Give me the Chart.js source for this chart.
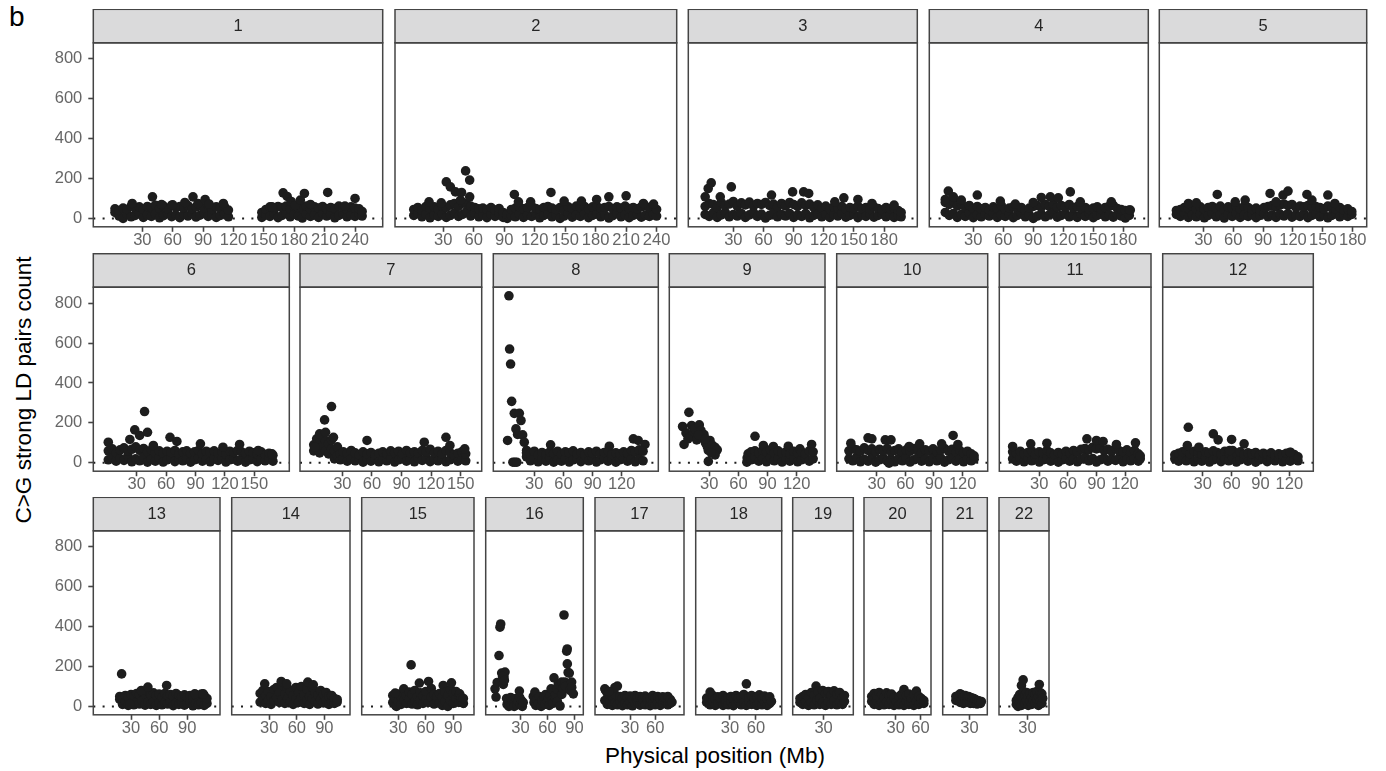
<!DOCTYPE html>
<html>
<head>
<meta charset="utf-8">
<script src="https://cdn.jsdelivr.net/npm/chart.js@4.4.1/dist/chart.umd.min.js"></script>
<style>
  html, body { margin: 0; padding: 0; background: #ffffff; }
  #page { position: relative; width: 1386px; height: 771px; overflow: hidden;
          font-family: "Liberation Sans", Arial, Helvetica, sans-serif; }
  .panel { position: absolute; }
  #tag { position: absolute; left: 9px; top: 3px; font-size: 28px; line-height: 28px; color: #000; }
  #ytitle { position: absolute; left: -176px; top: 378px; width: 400px; height: 24px;
            line-height: 24px; font-size: 22.5px; text-align: center; color: #000;
            transform: rotate(-90deg); transform-origin: 50% 50%; }
  #xtitle { position: absolute; left: 415px; top: 744px; width: 600px; height: 24px;
            line-height: 24px; font-size: 22.5px; text-align: center; color: #000; }
</style>
</head>
<body>
<div id="page">
  <div id="tag">b</div>
  <div id="ytitle">C&gt;G strong LD pairs count</div>
  <div id="xtitle">Physical position (Mb)</div>
</div>
<script>
// Chromosome labels shown in the facet strips
const chromLabels = ['1','2','3','4','5','6','7','8','9','10','11','12','13','14','15','16','17','18','19','20','21','22'];

// Axis breaks
const yBreaks = [0, 200, 400, 600, 800];
const xBreaks = [
  [30,60,90,120,150,180,210,240], [30,60,90,120,150,180,210,240],
  [30,60,90,120,150,180], [30,60,90,120,150,180], [30,60,90,120,150,180],
  [30,60,90,120,150], [30,60,90,120,150],
  [30,60,90,120], [30,60,90,120], [30,60,90,120], [30,60,90,120], [30,60,90,120],
  [30,60,90], [30,60,90], [30,60,90], [30,60,90],
  [30,60], [30,60], [30], [30,60], [30], [30]
];

// [physical position (Mb), C>G strong LD pairs count] per chromosome
const chr1 = [[3,30],[3,48],[7,12],[7,40],[11,0],[11,52],[15,20],[15,45],[19,8],[19,62],[23,15],[23,50],[27,25],[27,58],[31,5],[31,44],[35,18],[35,60],[39,10],[39,55],[43,22],[43,66],[47,3],[47,50],[51,14],[51,62],[55,26],[55,48],[59,9],[59,66],[63,18],[63,55],[67,4],[67,60],[71,20],[71,52],[75,12],[75,64],[79,25],[79,46],[83,7],[83,58],[87,16],[87,62],[91,28],[91,50],[95,10],[95,66],[99,20],[99,45],[103,5],[103,58],[107,15],[107,52],[111,24],[111,60],[115,8],[115,42],
  [20,75],[40,108],[49,70],[60,68],[72,80],[80,108],[85,75],[92,95],[96,72],[110,75],
  [148,5],[148,30],[152,18],[152,45],[156,10],[156,58],[160,25],[160,52],[164,4],[164,60],[168,15],[168,55],[172,28],[172,62],[176,8],[176,48],[180,20],[180,60],[184,12],[184,55],[188,2],[188,50],[192,22],[192,62],[196,10],[196,45],[200,18],[200,58],[204,5],[204,52],[208,26],[208,60],[212,12],[212,48],[216,20],[216,55],[220,3],[220,50],[224,15],[224,62],[228,24],[228,55],[232,8],[232,45],[236,18],[236,58],[240,10],[240,52],[244,22],[244,48],[247,12],[247,35],
  [158,58],[169,128],[173,110],[177,85],[181,65],[186,92],[190,125],[213,130],[240,100],[230,62],[196,70]];
const chr2 = [[1,15],[1,45],[5,25],[5,55],[9,8],[9,40],[13,20],[13,60],[17,3],[17,50],[21,18],[21,58],[25,10],[25,45],[29,22],[29,62],[33,5],[33,55],[37,15],[37,68],[41,28],[41,75],[45,10],[45,60],[49,20],[49,80],[53,35],[53,70],[57,12],[57,62],[61,25],[61,55],[65,8],[65,48],[69,18],[69,52],[73,4],[73,45],[77,20],[77,55],[81,10],[81,42],[85,25],[85,50],[89,5],[89,30],[93,0],[93,20],[97,15],[97,45],[101,8],[101,52],[105,22],[105,58],[109,5],[109,48],[113,18],[113,55],[117,10],[117,62],[121,25],[121,50],[125,3],[125,45],[129,15],[129,55],[133,22],[133,60],[137,8],[137,52],[141,18],[141,45],[145,0],[145,55],[149,12],[149,40],[153,25],[153,58],[157,6],[157,50],[161,18],[161,62],[165,10],[165,55],[169,24],[169,60],[173,4],[173,48],[177,15],[177,58],[181,22],[181,62],[185,8],[185,50],[189,18],[189,55],[193,2],[193,60],[197,14],[197,48],[201,25],[201,58],[205,8],[205,52],[209,18],[209,62],[213,4],[213,50],[217,15],[217,55],[221,22],[221,48],[225,6],[225,58],[229,16],[229,62],[233,10],[233,52],[237,20],[237,60],[240,12],[240,45],
  [16,83],[28,78],[33,183],[37,158],[42,133],[47,92],[48,130],[52,238],[56,192],[56,108],[100,120],[104,83],[116,83],[136,130],[149,87],[166,87],[181,95],[193,108],[210,113],[227,75],[237,72]];
const chr3 = [[2,20],[2,60],[6,10],[6,75],[10,28],[10,70],[14,5],[14,55],[18,18],[18,80],[22,30],[22,65],[26,8],[26,72],[30,20],[30,85],[34,12],[34,60],[38,25],[38,78],[42,5],[42,68],[46,18],[46,82],[50,30],[50,62],[54,10],[54,75],[58,22],[58,70],[62,2],[62,80],[66,15],[66,65],[70,28],[70,72],[74,8],[74,58],[78,20],[78,75],[82,12],[82,62],[86,25],[86,80],[90,5],[90,70],[94,18],[94,60],[98,10],[98,78],[102,25],[102,65],[106,3],[106,72],[110,15],[110,55],[114,22],[114,68],[118,8],[118,50],[122,18],[122,62],[126,5],[126,48],[130,20],[130,58],[134,12],[134,52],[138,25],[138,60],[142,6],[142,45],[146,15],[146,55],[150,22],[150,50],[154,4],[154,62],[158,18],[158,48],[162,10],[162,55],[166,24],[166,45],[170,6],[170,58],[174,15],[174,50],[178,22],[178,42],[182,8],[182,55],[186,18],[186,48],[190,5],[190,52],[194,14],[194,40],[197,8],[197,30],
  [2,108],[5,150],[8,178],[17,108],[28,158],[68,117],[89,133],[100,133],[105,125],[131,83],[140,103],[154,95],[168,75],[190,67]];
const chr4 = [[2,30],[2,80],[6,15],[6,70],[10,25],[10,88],[14,5],[14,62],[18,20],[18,75],[22,10],[22,55],[26,28],[26,65],[30,4],[30,50],[34,18],[34,60],[38,8],[38,48],[42,22],[42,55],[46,12],[46,42],[50,25],[50,58],[54,5],[54,50],[58,18],[58,65],[62,10],[62,45],[66,22],[66,52],[70,4],[70,58],[74,15],[74,48],[78,25],[78,55],[82,8],[82,40],[86,18],[86,52],[90,0],[90,60],[94,12],[94,65],[98,22],[98,55],[102,8],[102,70],[106,18],[106,60],[110,28],[110,72],[114,6],[114,55],[118,15],[118,65],[122,25],[122,58],[126,8],[126,70],[130,18],[130,52],[134,5],[134,60],[138,22],[138,48],[142,10],[142,55],[146,25],[146,45],[150,4],[150,52],[154,15],[154,58],[158,22],[158,45],[162,8],[162,55],[166,18],[166,62],[170,6],[170,65],[174,20],[174,50],[178,12],[178,45],[182,2],[182,40],[186,15],[186,42],
  [2,95],[5,137],[10,108],[18,92],[34,117],[57,87],[72,72],[90,80],[98,105],[107,108],[115,103],[127,133],[137,83],[168,83],[187,42]];
const chr5 = [[3,20],[3,40],[7,10],[7,45],[11,25],[11,55],[15,5],[15,50],[19,18],[19,62],[23,8],[23,48],[27,22],[27,58],[31,3],[31,45],[35,15],[35,55],[39,25],[39,60],[43,8],[43,50],[47,18],[47,62],[51,2],[51,45],[55,20],[55,58],[59,10],[59,52],[63,25],[63,60],[67,5],[67,48],[71,18],[71,62],[75,10],[75,55],[79,22],[79,45],[83,4],[83,52],[87,15],[87,40],[91,25],[91,55],[95,8],[95,60],[99,18],[99,65],[103,5],[103,58],[107,22],[107,68],[111,12],[111,72],[115,25],[115,65],[119,6],[119,70],[123,18],[123,55],[127,10],[127,62],[131,24],[131,58],[135,4],[135,65],[139,15],[139,50],[143,22],[143,60],[147,8],[147,55],[151,18],[151,48],[155,3],[155,62],[159,15],[159,52],[163,24],[163,45],[167,8],[167,55],[171,18],[171,42],[175,10],[175,48],[179,20],[179,35],
  [15,75],[23,78],[44,120],[62,83],[72,92],[97,125],[103,83],[110,117],[115,137],[134,120],[139,92],[155,117],[162,75]];
const chr6 = [[1,15],[1,60],[5,30],[5,70],[9,8],[9,50],[13,22],[13,65],[17,12],[17,75],[21,35],[21,58],[25,5],[25,68],[29,20],[29,80],[33,10],[33,62],[37,28],[37,72],[41,3],[41,55],[45,18],[45,65],[49,8],[49,50],[53,25],[53,60],[57,4],[57,48],[61,15],[61,58],[65,25],[65,52],[69,6],[69,62],[73,18],[73,45],[77,10],[77,55],[81,22],[81,60],[85,3],[85,48],[89,15],[89,55],[93,25],[93,62],[97,8],[97,45],[101,18],[101,58],[105,5],[105,52],[109,22],[109,60],[113,12],[113,48],[117,25],[117,55],[121,4],[121,45],[125,15],[125,58],[129,22],[129,52],[133,8],[133,62],[137,18],[137,55],[141,3],[141,48],[145,15],[145,58],[149,25],[149,50],[153,6],[153,45],[157,18],[157,55],[161,10],[161,42],[165,20],[165,48],[169,8],[169,38],
  [1,103],[23,117],[28,165],[33,137],[38,257],[41,153],[47,87],[64,128],[71,107],[95,95],[118,78],[135,92],[154,62],[168,45]];
const chr7 = [[1,60],[1,90],[4,75],[4,120],[7,50],[7,100],[10,80],[10,130],[13,60],[13,110],[16,45],[16,95],[19,70],[19,115],[22,20],[22,60],[25,35],[25,80],[28,15],[28,45],[31,25],[31,55],[35,8],[35,48],[39,20],[39,62],[43,10],[43,50],[47,25],[47,40],[51,3],[51,55],[55,18],[55,45],[59,8],[59,52],[63,22],[63,40],[67,5],[67,48],[71,18],[71,55],[75,10],[75,45],[79,24],[79,60],[83,4],[83,50],[87,15],[87,58],[91,25],[91,45],[95,8],[95,62],[99,18],[99,50],[103,5],[103,55],[107,22],[107,48],[111,12],[111,62],[115,25],[115,55],[119,6],[119,68],[123,18],[123,50],[127,10],[127,58],[131,22],[131,45],[135,5],[135,62],[139,15],[139,52],[143,24],[143,40],[147,8],[147,48],[151,18],[151,55],[155,10],[155,45],
  [2,78],[7,145],[12,215],[13,153],[19,282],[21,128],[55,112],[113,103],[135,128],[139,87],[154,70]];
const chr8 = [[2.5,112],[3.9,837],[4.6,570],[5.6,495],[6.7,308],[9.4,248],[11.1,170],[12.8,142],[14.6,248],[16.3,212],[18,140],[19.7,103],[8,3],[10,3],[12,3],[22.1,62],[46.8,90],[107.3,83],[132,120],[137,112],[144,92],
  [22,30],[22,50],[26,10],[26,45],[30,22],[30,58],[34,5],[34,40],[38,18],[38,52],[42,8],[42,45],[46,25],[46,55],[50,3],[50,48],[54,15],[54,58],[58,8],[58,42],[62,22],[62,55],[66,4],[66,50],[70,15],[70,60],[74,25],[74,45],[78,6],[78,52],[82,18],[82,40],[86,10],[86,55],[90,22],[90,48],[94,4],[94,58],[98,15],[98,45],[102,25],[102,52],[106,8],[106,60],[110,18],[110,42],[114,3],[114,50],[118,15],[118,45],[122,22],[122,55],[126,8],[126,48],[130,18],[130,62],[134,5],[134,55],[138,20],[138,65],[142,10],[142,58]];
const chr9 = [[2.5,182],[4,92],[6,150],[9,253],[10,130],[11.8,187],[13.5,148],[15,170],[17,115],[19.7,190],[21.4,162],[22,125],[24.5,142],[26,100],[28,80],[29,62],[29,7],[30.7,112],[33,88],[35.8,78],[38.2,65],[36,40],[8,120],[19,140],[26,120],[32,50],
  [68.7,3],[69,25],[70,45],[73,15],[73,55],[77,30],[77,60],[77.1,133],[81,8],[81,50],[85,20],[85,62],[85.7,87],[89,5],[89,55],[93,25],[93,65],[96,82],[97,10],[97,50],[101,22],[101,60],[105,4],[105,48],[109,18],[109,55],[111.4,83],[113,8],[113,45],[117,20],[117,58],[121,5],[121,50],[123.4,70],[125,15],[125,55],[129,25],[129,45],[133,8],[133,60],[135.4,92],[137,20],[137,55]];
const chr10 = [[1,20],[1,60],[5,10],[5,72],[9,28],[9,65],[13,5],[13,58],[17,18],[17,75],[21,8],[21,62],[25,25],[25,70],[29,3],[29,55],[33,15],[33,68],[37,25],[37,60],[41,8],[41,72],[45,18],[45,55],[49,5],[49,62],[53,22],[53,70],[57,10],[57,55],[61,25],[61,65],[65,4],[65,58],[69,15],[69,72],[73,25],[73,60],[77,8],[77,50],[81,18],[81,65],[85,5],[85,58],[89,22],[89,70],[93,10],[93,55],[97,25],[97,65],[101,3],[101,72],[105,15],[105,60],[109,24],[109,68],[113,8],[113,55],[117,18],[117,62],[121,5],[121,50],[125,20],[125,58],[129,10],[129,45],[132,18],[132,35],
  [3,98],[21,125],[25,120],[39,115],[45,115],[64,82],[75,95],[98,95],[110,137],[115,92],[43,-2]];
const chr11 = [[2,20],[2,55],[6,8],[6,48],[10,25],[10,58],[14,5],[14,45],[18,18],[18,52],[22,10],[22,60],[26,25],[26,42],[30,4],[30,55],[34,15],[34,48],[38,22],[38,62],[42,8],[42,50],[46,18],[46,40],[50,3],[50,52],[54,15],[54,45],[58,25],[58,58],[62,8],[62,50],[66,20],[66,62],[70,5],[70,55],[74,18],[74,68],[78,28],[78,72],[82,10],[82,65],[86,22],[86,78],[90,4],[90,70],[94,15],[94,75],[98,25],[98,62],[102,8],[102,68],[106,20],[106,58],[110,12],[110,72],[114,25],[114,60],[118,5],[118,55],[122,18],[122,65],[126,10],[126,52],[130,22],[130,62],[134,8],[134,45],[136,20],[136,35],
  [2,82],[21,95],[38,98],[80,120],[90,112],[97,107],[111,92],[131,100]];
const chr12 = [[1,20],[1,40],[5,8],[5,48],[9,25],[9,55],[13,10],[13,62],[17,22],[17,45],[21,5],[21,58],[25,18],[25,50],[29,8],[29,42],[33,25],[33,55],[37,4],[37,48],[41,15],[41,60],[45,22],[45,52],[49,6],[49,45],[53,18],[53,58],[57,10],[57,50],[61,25],[61,62],[65,4],[65,48],[69,15],[69,55],[73,22],[73,42],[77,8],[77,50],[81,18],[81,45],[85,3],[85,52],[89,15],[89,40],[93,22],[93,48],[97,6],[97,42],[101,18],[101,50],[105,10],[105,38],[109,22],[109,45],[113,5],[113,40],[117,15],[117,48],[121,8],[121,52],[125,20],[125,42],[129,10],[129,30],
  [14,87],[15,178],[26,78],[41,145],[46,115],[58,62],[60,117],[73,95],[121,53]];
const chr13 = [[18,35],[18,50],[21,10],[21,40],[24,25],[24,55],[27,5],[27,48],[30,18],[30,60],[33,8],[33,52],[36,22],[36,65],[39,12],[39,58],[42,28],[42,72],[45,6],[45,62],[48,20],[48,75],[51,10],[51,58],[54,25],[54,68],[57,5],[57,55],[60,18],[60,62],[63,8],[63,48],[66,22],[66,65],[69,12],[69,55],[72,25],[72,60],[75,4],[75,50],[78,18],[78,65],[81,10],[81,55],[84,22],[84,48],[87,6],[87,58],[90,15],[90,45],[93,25],[93,55],[96,3],[96,40],[99,15],[99,58],[102,8],[102,48],[105,20],[105,62],[108,5],[108,55],[111,15],[111,40],
  [20,163],[29,10],[41,80],[48,97],[68,105],[98,63],[107,63]];
const chr14 = [[20,22],[20,65],[23,40],[23,80],[26,15],[26,55],[29,30],[29,75],[32,10],[32,50],[35,28],[35,85],[38,45],[38,95],[41,20],[41,70],[44,35],[44,105],[47,15],[47,60],[50,40],[50,90],[53,25],[53,75],[56,10],[56,55],[59,35],[59,95],[62,20],[62,70],[65,45],[65,100],[68,15],[68,60],[71,30],[71,85],[74,10],[74,50],[77,40],[77,95],[80,25],[80,70],[83,12],[83,55],[86,35],[86,80],[89,18],[89,60],[92,30],[92,70],[95,10],[95,50],[98,25],[98,55],[101,15],[101,40],[104,22],[104,35],
  [25,113],[43,125],[49,113],[72,122],[78,108]];
const chr15 = [[24,20],[24,55],[27,5],[27,40],[28,0],[30,25],[30,62],[33,10],[33,48],[36,30],[36,88],[39,15],[39,55],[42,35],[42,72],[44,208],[45,12],[45,60],[48,25],[48,80],[51,8],[51,50],[53,117],[54,30],[54,68],[57,15],[57,52],[60,35],[60,75],[63,125],[63,20],[66,45],[66,90],[69,12],[69,60],[72,30],[72,50],[75,18],[75,65],[78,5],[78,45],[79,105],[81,25],[81,70],[84,0],[84,55],[87,30],[87,85],[88,118],[90,15],[90,65],[93,40],[93,75],[96,20],[96,55],[97,63],[99,30],[99,45],[101,15],[101,40],[26.6,67]];
const chr16 = [[1.6,88],[2.7,47],[4,120],[6,255],[7.1,397],[7.9,413],[9,167],[10.8,110],[11.6,147],[12.7,172],[10,150],[12,130],[14.5,40],[15,10],[17,25],[17,0],[19,45],[20,5],[21,30],[23,15],[23,0],[25,40],[26,8],[27,25],[28.7,77],[29,45],[30,10],[31,30],[32,0],[33,20],
  [44.2,50],[45,20],[46,72],[47,5],[48,35],[50,15],[51,50],[53,0],[54,30],[56,45],[57,10],[58,60],[60,25],[61,40],[62,5],[63,55],[64,88],[65,30],[66,15],[67.3,143],[68.4,47],[69,60],[70.3,88],[71,25],[72,110],[74,2],[75.9,122],[76,60],[77,90],[78.4,458],[79.5,122],[80,100],[81.4,277],[82,288],[82.1,213],[83,170],[84.3,167],[85,80],[86.9,122],[87,95],[88.8,63]];
const chr17 = [[0,30],[0,88],[3,10],[3,65],[6,25],[6,55],[9,5],[9,48],[12,18],[12,60],[15,8],[15,102],[18,25],[18,50],[21,4],[21,42],[24,15],[24,55],[27,8],[27,45],[30,22],[30,52],[33,3],[33,40],[36,15],[36,55],[39,25],[39,45],[42,6],[42,50],[45,18],[45,38],[48,8],[48,52],[51,22],[51,45],[54,4],[54,40],[57,15],[57,55],[60,8],[60,42],[63,20],[63,50],[66,5],[66,38],[69,15],[69,48],[72,25],[72,42],[75,8],[75,50],[78,15],[78,35],[80,22],[1,80],[12,95],[5,75]];
const chr18 = [[3,20],[3,42],[7,8],[7,72],[10,25],[10,55],[13,5],[13,38],[16,15],[16,48],[19,28],[19,40],[22,5],[22,55],[25,18],[25,35],[28,8],[28,45],[31,22],[31,50],[34,4],[34,38],[37,15],[37,55],[40,25],[40,42],[43,8],[43,48],[46,18],[46,60],[49,113],[49,5],[52,22],[52,45],[55,10],[55,55],[58,25],[58,40],[61,5],[61,48],[64,18],[64,58],[67,8],[67,42],[70,22],[70,52],[73,5],[73,38],[76,15],[76,48],[78,25]];
const chr19 = [[5,20],[5,40],[8,10],[8,50],[11,25],[11,60],[14,5],[14,45],[17,20],[17,70],[20,8],[20,55],[22,102],[23,30],[24,75],[26,10],[26,40],[29,20],[29,80],[32,5],[32,65],[35,25],[35,75],[38,10],[38,55],[41,30],[41,78],[44,8],[44,60],[47,20],[47,70],[50,10],[50,45],[52,25],[52,55]];
const chr20 = [[1,25],[1,50],[4,10],[4,65],[7,30],[7,55],[10,5],[10,70],[13,20],[13,60],[16,8],[16,45],[19,25],[19,68],[22,10],[22,55],[25,30],[25,62],[28,5],[28,45],[31,20],[31,25],[34,8],[34,50],[37,15],[37,60],[40,85],[40,5],[43,25],[43,55],[46,10],[46,62],[49,20],[49,40],[52,5],[52,58],[55,77],[55,25],[58,10],[58,50],[61,20],[61,40],[64,15],[64,30]];
const chr21 = [[14,30],[14,50],[17,30],[17,55],[19,20],[19,63],[21,35],[21,58],[23,15],[23,50],[25,30],[25,55],[27,20],[27,48],[29,35],[29,50],[31,15],[31,45],[33,25],[33,42],[35,15],[35,40],[37,28],[37,35],[39,12],[39,30],[41,20],[41,28],[43,15],[44,25]];
const chr22 = [[17,10],[17,30],[19,0],[19,45],[21,20],[21,60],[23,105],[23,5],[24,40],[25,133],[25,75],[27,15],[27,55],[29,30],[29,70],[31,5],[31,50],[33,25],[33,65],[35,10],[35,45],[37,30],[37,70],[39,15],[39,60],[41,35],[41,75],[43,5],[43,50],[44,110],[45,25],[45,70],[47,15],[47,63],[48,40]];

const series = [chr1, chr2, chr3, chr4, chr5, chr6, chr7, chr8, chr9, chr10, chr11,
                chr12, chr13, chr14, chr15, chr16, chr17, chr18, chr19, chr20, chr21, chr22];

// Per-panel x-axis limits (Mb, including the padding around the data)
const xLo = [-18.4, -17.5, -14.8, -14, -14.2, -14.3, -12.9, -12.2, -11.2, -11.8, -12, -11.6,
             -10.2, -11, -9.9, -8.8, -11.7, -9.7, -2.7, -8.3, -1.5, -3.4];
const xHi = [267.3, 259.8, 213.1, 205, 194, 185.7, 171.2, 157.7, 149.2, 146.2, 147.3, 144.9,
             124.9, 118, 112.6, 99.9, 94.3, 89.9, 61.4, 72.7, 51, 55.4];
const Y_MIN = -42, Y_MAX = 880;

// Facet layout (page pixels)
const panelRow   = [0,0,0,0,0, 1,1,1,1,1,1,1, 2,2,2,2,2,2,2,2,2,2];
const panelLeft  = [93.3, 395, 688.3, 929.3, 1159.3, 93.3, 300, 493.3, 669.3, 836.7, 999.3, 1162.7,
                    93.3, 231.7, 361.7, 485.7, 595, 695.7, 792.7, 864, 942.7, 999];
const panelRight = [382.7, 676.7, 917.3, 1148.3, 1366.7, 289.3, 481.7, 658.3, 825, 987.7, 1151, 1313.3,
                    220, 350, 474, 583.3, 684, 781.7, 853.3, 931, 987.3, 1049];
const rowTop = [9.3, 253.7, 497.3];
const STRIP_H = 33.5, PLOT_H = 184, AX_B = 34, Y_W = 60, PAD_L = 70, PAD_R = 4;

const FONT = '"Liberation Sans", Arial, Helvetica, sans-serif';
const INK = '#1d1d1d';
const FRAME = '#444444';
const TICK_FONT = { size: 16.5, family: FONT, lineHeight: 1 };

// Strip header and panel border, drawn over the data like ggplot's theme_bw
const panelFrame = {
  id: 'panelFrame',
  afterDatasetsDraw(chart, args, opts) {
    const { ctx, chartArea: a } = chart;
    const w = a.right - a.left;
    ctx.save();
    ctx.fillStyle = '#dadadb';
    ctx.fillRect(a.left, a.top - STRIP_H, w, STRIP_H);
    ctx.strokeStyle = FRAME;
    ctx.lineWidth = 1.5;
    ctx.strokeRect(a.left, a.top - STRIP_H, w, STRIP_H);
    ctx.strokeRect(a.left, a.top, w, a.bottom - a.top);
    ctx.fillStyle = '#262626';
    ctx.font = '16.5px ' + FONT;
    ctx.textAlign = 'center';
    ctx.textBaseline = 'middle';
    ctx.fillText(opts.label, (a.left + a.right) / 2, a.top - STRIP_H / 2 + 0.5);
    ctx.restore();
  }
};

const page = document.getElementById('page');

function makePanel(i) {
  const left = panelLeft[i], right = panelRight[i];
  const stripTop = rowTop[panelRow[i]];
  const showY = (i === 0 || i === 5 || i === 12);
  const yAxisW = showY ? Y_W : 0;
  const bottomEdge = stripTop + STRIP_H + PLOT_H + AX_B;

  const divLeft = Math.round(left) - PAD_L;
  const divTop = Math.floor(stripTop);
  const divW = Math.ceil(right) + PAD_R - divLeft;
  const divH = Math.ceil(bottomEdge) - divTop;

  const box = document.createElement('div');
  box.className = 'panel';
  box.style.left = divLeft + 'px';
  box.style.top = divTop + 'px';
  box.style.width = divW + 'px';
  box.style.height = divH + 'px';
  const cv = document.createElement('canvas');
  box.appendChild(cv);
  page.appendChild(box);

  const ticks = xBreaks[i];
  const pts = series[i].map(([x, y]) => ({ x, y }));

  new Chart(cv, {
    type: 'scatter',
    data: {
      datasets: [
        {
          type: 'line',
          data: [{ x: xLo[i], y: 0 }, { x: xHi[i], y: 0 }],
          borderColor: INK,
          borderWidth: 2,
          borderDash: [2, 7.3],
          pointRadius: 0,
          order: 2
        },
        {
          data: pts,
          pointRadius: 4.8,
          pointHoverRadius: 4.8,
          backgroundColor: INK,
          borderWidth: 0,
          order: 1
        }
      ]
    },
    options: {
      responsive: true,
      maintainAspectRatio: false,
      animation: false,
      events: [],
      layout: {
        autoPadding: false,
        padding: {
          left: left - divLeft - yAxisW,
          right: divLeft + divW - right,
          top: stripTop + STRIP_H - divTop,
          bottom: divH - (bottomEdge - divTop)
        }
      },
      plugins: {
        legend: { display: false },
        tooltip: { enabled: false },
        panelFrame: { label: chromLabels[i] }
      },
      scales: {
        x: {
          type: 'linear',
          min: xLo[i],
          max: xHi[i],
          afterBuildTicks: ax => { ax.ticks = ticks.map(v => ({ value: v })); },
          afterFit: ax => { ax.height = AX_B; },
          grid: { drawOnChartArea: false, drawTicks: true, tickLength: 5, tickColor: FRAME, tickWidth: 1.6 },
          border: { display: false },
          ticks: { color: '#666666', font: TICK_FONT,
                   padding: 0, maxRotation: 0, minRotation: 0, autoSkip: false }
        },
        y: {
          display: showY,
          min: Y_MIN,
          max: Y_MAX,
          afterBuildTicks: ax => { ax.ticks = yBreaks.map(v => ({ value: v })); },
          afterFit: ax => { ax.width = yAxisW; },
          grid: { drawOnChartArea: false, drawTicks: true, tickLength: 5, tickColor: FRAME, tickWidth: 1.6 },
          border: { display: false },
          ticks: { color: '#666666', font: TICK_FONT, padding: 6, autoSkip: false }
        }
      }
    },
    plugins: [panelFrame]
  });
}

for (let i = 0; i < series.length; i++) makePanel(i);
</script>
</body>
</html>
